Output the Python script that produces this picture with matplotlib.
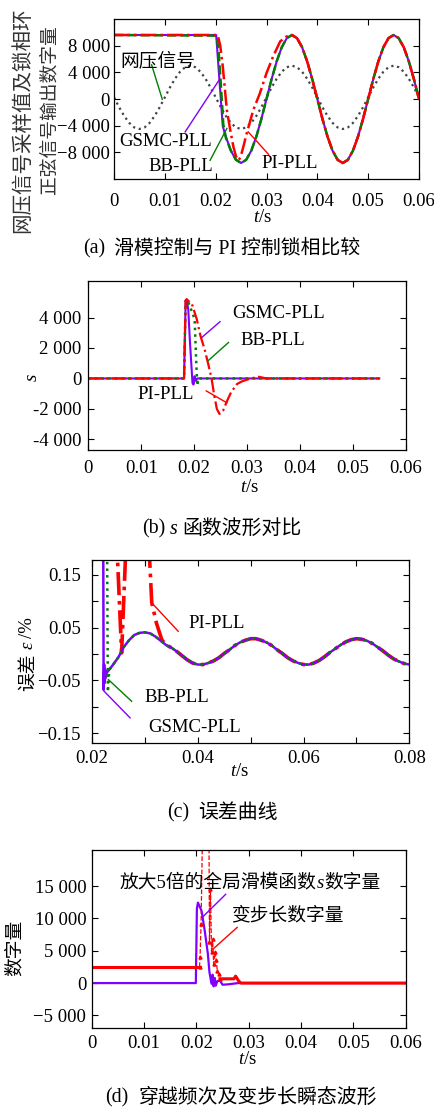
import numpy as np
import matplotlib
matplotlib.use("Agg")
import matplotlib.pyplot as plt
from matplotlib.transforms import IdentityTransform

plt.rcParams['font.family'] = ['Liberation Serif', 'Noto Sans CJK SC']
plt.rcParams['mathtext.fontset'] = 'custom'
plt.rcParams['mathtext.rm'] = 'Liberation Serif'
plt.rcParams['mathtext.it'] = 'Liberation Serif:italic'

PURPLE = "#8000ff"
GREEN = "#008000"
RED = "#ff0000"
GREY = "#444444"
FS = 13.5
W, H = 434.0, 1110.0

# ---------------- (a) PLL output vs grid voltage ----------------
grid_t = np.round(np.arange(0, 0.0605, 0.001), 4)
grid_v = [250, -1220, -2540, -3590, -4270, -4500, -4270, -3590, -2540, -1220,
          250, 1720, 3040, 4090, 4770, 5000, 4770, 4090, 3040, 1720,
          250, -1220, -2540, -3590, -4270, -4500, -4270, -3590, -2540, -1220,
          250, 1720, 3040, 4090, 4770, 5000, 4770, 4090, 3040, 1720,
          250, -1220, -2540, -3590, -4270, -4500, -4270, -3590, -2540, -1220,
          250, 1720, 3040, 4090, 4770, 5000, 4770, 4090, 3040, 1720,
          250]

lock_t = np.round(np.arange(0.026, 0.0605, 0.001), 4)
lock_v = [-9130, -7770, -5640, -2970, 0, 2970, 5640, 7770, 9130, 9600,
          9130, 7770, 5640, 2970, 0, -2970, -5640, -7770, -9130, -9600,
          -9130, -7770, -5640, -2970, 0, 2970, 5640, 7770, 9130, 9600,
          9130, 7770, 5640, 2970, 0]

gsmc_a_t = [0, 0.0201, 0.0214, 0.022, 0.023, 0.024, 0.025]
gsmc_a_v = [9600, 9600, -4100, -5640, -7770, -9130, -9600]
bb_a_t = [0, 0.0202, 0.0206, 0.021, 0.0215, 0.022, 0.023, 0.024, 0.025]
bb_a_v = [9600, 9500, 7000, 2400, -3800, -5800, -7770, -9130, -9600]
pi_a_t = [0, 0.0204, 0.0209, 0.0214, 0.0222, 0.0229, 0.0235, 0.024, 0.0245,
          0.0249, 0.0254, 0.0261, 0.0274, 0.0287, 0.03, 0.0313, 0.0327, 0.034]
pi_a_v = [9600, 9600, 8000, 4870, -1660, -4800, -7200, -8600, -9200,
          -8700, -7300, -5180, -1660, 860, 3880, 6380, 8650, 9400]

# ---------------- (b) sliding function s ----------------
gsmc_b_t = [0, 0.0181, 0.0184, 0.0186, 0.0189, 0.0192, 0.0195, 0.0197, 0.0199,
            0.0201, 0.0203, 0.0206, 0.055]
gsmc_b_v = [0, 0, 5100, 5200, 4500, 2500, 800, -300, -400, 150, -150, 0, 0]
bb_b_t = [0, 0.0181, 0.0184, 0.0187, 0.0193, 0.0201, 0.0204, 0.0206, 0.0208, 0.055]
bb_b_v = [0, 0, 5100, 5200, 4650, 3900, 1100, -470, 0, 0]
pi_b_t = [0, 0.0181, 0.0184, 0.0186, 0.0196, 0.0205, 0.0212, 0.022, 0.0227,
          0.0233, 0.0238, 0.0243, 0.0248, 0.0255, 0.0262, 0.027, 0.0281, 0.029,
          0.03, 0.031, 0.0322, 0.0337, 0.055]
pi_b_v = [0, 0, 5100, 5200, 4870, 3900, 2800, 1900, 900, 0, -1100, -2000,
          -2330, -2100, -1500, -900, -370, -200, -80, 20, 110, 0, 0]

# ---------------- (c) error curves ----------------
err_t = np.round(np.arange(0.024, 0.0805, 0.001), 4)
err_v = [-0.020, -0.006, 0.013, 0.026, 0.036, 0.040, 0.041, 0.039, 0.033, 0.025,
         0.017, 0.012, 0.005, -0.003, -0.011, -0.017, -0.020, -0.020, -0.017,
         -0.013, -0.007, 0.001, 0.008, 0.016, 0.022, 0.026, 0.029, 0.029, 0.026,
         0.022, 0.016, 0.008, 0.001, -0.007, -0.013, -0.017, -0.020, -0.020,
         -0.017, -0.012, -0.005, 0.003, 0.010, 0.017, 0.023, 0.027, 0.029, 0.028,
         0.025, 0.020, 0.013, 0.006, -0.002, -0.009, -0.014, -0.018, -0.020]
gsmc_c_t = [0.0221, 0.0222, 0.0223, 0.0224, 0.0225, 0.0226, 0.0228, 0.023]
gsmc_c_v = [0.3, -0.068, -0.020, -0.055, -0.030, -0.045, -0.035, -0.033]
bb_c_t = [0.0228, 0.0230, 0.0232, 0.0234]
bb_c_v = [0.3, -0.072, -0.040, -0.028]
pi_c_t = [0.0243, 0.0256, 0.0268, 0.0303, 0.0313, 0.0322, 0.0332, 0.034]
pi_c_v = [0.3, 0.002, 0.3, 0.3, 0.097, 0.058, 0.027, 0.017]

# ---------------- (d) crossing count and variable step ----------------
s5_t = [0, 0.0199, 0.0201, 0.0203, 0.021, 0.0216, 0.0222, 0.0225, 0.0229, 0.0231,
        0.0233, 0.0235, 0.0237, 0.024, 0.0245, 0.025, 0.026, 0.027, 0.028, 0.06]
s5_v = [0, 0, 11500, 12460, 11170, 8090, 4510, 1690, -110, 1300, -500, 800,
        -400, 300, 400, -250, -200, -100, 0, 0]
step_hold1_t = [0, 0.0206]
step_hold1_v = [2500, 2500]
step_t = [0.0206, 0.0207, 0.0209, 0.0212, 0.0224, 0.0225, 0.0227, 0.0229, 0.0231,
          0.0233, 0.0236, 0.0238, 0.024, 0.0243, 0.0245]
step_v = [2500, 4000, 9100, 25000, 25000, 6300, 14500, 4800, 6800, 3000, 4800,
          3500, 1900, 1400, 700]
step_hold2_t = [0.0245, 0.0272, 0.0275, 0.0278, 0.028, 0.0285, 0.06]
step_hold2_v = [660, 660, 1080, 700, 400, 0, 0]


def px_axes(fig, left, top, right, bottom):
    return fig.add_axes([left / W, 1 - bottom / H, (right - left) / W, (bottom - top) / H])


def style(ax, xpad, ypad):
    ax.tick_params(which='both', direction='in', top=True, right=True,
                   labelsize=FS, width=0.8, length=4)
    ax.tick_params(axis='x', pad=xpad)
    ax.tick_params(axis='y', pad=ypad)
    for sp in ax.spines.values():
        sp.set_linewidth(0.9)


def seq_text(fig, x, y, pieces, size=FS, vertical=False):
    # pieces: (string, italic, gap_after_px); x, y in pixels from top-left
    renderer = fig.canvas.get_renderer()
    objs, sizes = [], []
    for s, italic, gap in pieces:
        t = fig.text(0, 0, s, transform=IdentityTransform(), fontsize=size,
                     fontstyle='italic' if italic else 'normal',
                     rotation=90 if vertical else 0,
                     ha='center' if vertical else 'left',
                     va='bottom' if vertical else 'center')
        ext = t.get_window_extent(renderer)
        objs.append(t)
        sizes.append((ext.height if vertical else ext.width) + gap)
    total = sum(sizes)
    pos = (H - y - total / 2) if vertical else (x - total / 2)
    for t, sz in zip(objs, sizes):
        if vertical:
            t.set_position((x, pos))
        else:
            t.set_position((pos, H - y))
        pos += sz


fig = plt.figure(figsize=(W / 100, H / 100), dpi=100)

xt6 = [0, 0.01, 0.02, 0.03, 0.04, 0.05, 0.06]
xt6_lbl = ['0', '0.01', '0.02', '0.03', '0.04', '0.05', '0.06']

# (a)
ax = px_axes(fig, 114, 19, 419, 179)
ax.plot(grid_t, grid_v, ls=':', color=GREY, lw=1.6)
ax.plot(list(gsmc_a_t) + list(lock_t), list(gsmc_a_v) + list(lock_v), color=PURPLE, lw=1.5)
ax.plot(list(bb_a_t) + list(lock_t), list(bb_a_v) + list(lock_v), ls='--', color=GREEN, lw=1.8)
ax.plot(list(pi_a_t) + list(lock_t[9:]), list(pi_a_v) + list(lock_v[9:]), ls='-.', color=RED, lw=1.8)
ax.set_xlim(0, 0.06)
ax.set_ylim(-12000, 12000)
ax.set_xticks(xt6, xt6_lbl)
ax.set_yticks([-8000, -4000, 0, 4000, 8000], ['−8 000', '−4 000', '0', '4 000', '8 000'])
style(ax, 10, 3)
ax.plot([0.0074, 0.0095], [5130, -45], color=GREEN, lw=1)
ax.text(0.0013, 5630, '网压信号', fontsize=FS, va='center', ha='left')
ax.plot([0.014, 0.0207], [-4930, 2870], color=PURPLE, lw=1)
ax.text(0.001, -6440, 'GSMC-PLL', fontsize=FS, va='center', ha='left')
ax.plot([0.0189, 0.0222], [-9200, -4420], color=GREEN, lw=1)
ax.text(0.0067, -10060, 'BB-PLL', fontsize=FS, va='center', ha='left')
ax.plot([0.0264, 0.0304], [-4930, -8300], color=RED, lw=1)
ax.text(0.029, -9700, 'PI-PLL', fontsize=FS, va='center', ha='left')
fig.text(23 / W, 1 - 120 / H, '网压信号采样值及锁相环', rotation=90,
         fontsize=14.8, ha='center', va='center', color='#333333')
fig.text(50 / W, 1 - 110 / H, '正弦信号输出数字量', rotation=90,
         fontsize=FS, ha='center', va='center', color='#333333')
fig.text(263 / W, 1 - 218 / H, r'$t$/s', fontsize=FS, ha='center', va='center')
seq_text(fig, 222, 249, [('(a)', False, 9), ('滑模控制与 PI 控制锁相比较', False, 0)], size=14.3)

# (b)
ax = px_axes(fig, 88.3, 281, 405.7, 450)
ax.plot(gsmc_b_t, gsmc_b_v, color=PURPLE, lw=1.5)
ax.plot(bb_b_t, bb_b_v, ls=':', color=GREEN, lw=1.8)
ax.plot(pi_b_t, pi_b_v, ls='-.', color=RED, lw=1.6)
ax.set_xlim(0, 0.06)
ax.set_ylim(-4700, 6400)
ax.set_xticks(xt6, xt6_lbl)
ax.set_yticks([-4000, -2000, 0, 2000, 4000], ['-4 000', '-2 000', '0', '2 000', '4 000'])
style(ax, 7, 5)
ax.plot([0.02145, 0.0249], [2690, 3730], color=PURPLE, lw=1)
ax.text(0.0272, 4290, 'GSMC-PLL', fontsize=FS, va='center', ha='left')
ax.plot([0.0227, 0.0265], [1180, 2360], color=GREEN, lw=1)
ax.text(0.0288, 2510, 'BB-PLL', fontsize=FS, va='center', ha='left')
ax.plot([0.0223, 0.0262], [-820, -1600], color=RED, lw=1)
ax.text(0.0093, -1040, 'PI-PLL', fontsize=FS, va='center', ha='left')
fig.text(32 / W, 1 - 377 / H, 's', fontstyle='italic', fontsize=FS, ha='center',
         va='center', rotation=90)
fig.text(250 / W, 1 - 488 / H, r'$t$/s', fontsize=FS, ha='center', va='center')
seq_text(fig, 222, 529, [('(b)', False, 4), ('s', True, 5), ('函数波形对比', False, 0)], size=14.3)

# (c)
ax = px_axes(fig, 92, 560, 409.3, 742.7)
ax.plot(list(pi_c_t) + list(err_t[10:]), list(pi_c_v) + list(err_v[10:]), ls='-.', color=RED, lw=2.6)
ax.plot(list(gsmc_c_t) + list(err_t), list(gsmc_c_v) + list(err_v), color=PURPLE, lw=1.8)
ax.plot(list(bb_c_t) + list(err_t), list(bb_c_v) + list(err_v), ls=':', color=GREEN, lw=1.8)
ax.set_xlim(0.02, 0.08)
ax.set_ylim(-0.168, 0.178)
ax.set_xticks([0.02, 0.04, 0.06, 0.08], ['0.02', '0.04', '0.06', '0.08'])
ax.set_xticks([0.03, 0.05, 0.07], minor=True)
ax.set_yticks([-0.15, -0.05, 0.05, 0.15], ['−0.15', '−0.05', '0.05', '0.15'])
ax.set_yticks([-0.1, 0, 0.1], minor=True)
style(ax, 5, 8)
ax.plot([0.0316, 0.0363], [0.0936, 0.043], color=RED, lw=1)
ax.text(0.0382, 0.058, 'PI-PLL', fontsize=FS, va='center', ha='left')
ax.plot([0.0231, 0.0275], [-0.0485, -0.0896], color=GREEN, lw=1)
ax.text(0.030, -0.083, 'BB-PLL', fontsize=FS, va='center', ha='left')
ax.plot([0.0223, 0.0272], [-0.0706, -0.121], color=PURPLE, lw=1)
ax.text(0.0306, -0.140, 'GSMC-PLL', fontsize=FS, va='center', ha='left')
seq_text(fig, 28, 654, [('误差', False, 5), ('ε', True, 4), ('/%', False, 0)], vertical=True)
fig.text(240 / W, 1 - 772 / H, r'$t$/s', fontsize=FS, ha='center', va='center')
seq_text(fig, 222, 813, [('(c)', False, 9), ('误差曲线', False, 0)], size=14.3)

# (d)
ax = px_axes(fig, 91.7, 850, 405.7, 1028.3)
ax.plot(s5_t, s5_v, color=PURPLE, lw=1.6)
ax.plot(step_hold1_t, step_hold1_v, color=RED, lw=2.2)
ax.plot(step_t, step_v, ls='--', color=RED, lw=0.9, marker='^', ms=2.2)
ax.plot(step_hold2_t, step_hold2_v, color=RED, lw=2.2)
ax.set_xlim(0, 0.06)
ax.set_ylim(-7000, 20600)
ax.set_xticks(xt6, xt6_lbl)
ax.set_yticks([-5000, 0, 5000, 10000, 15000], ['−5 000', '0', '5 000', '10 000', '15 000'])
style(ax, 5, 4)
ax.plot([0.0211, 0.0256], [10150, 13740], color=PURPLE, lw=1)
seq_text(fig, 250, 883, [('放大5倍的全局滑模函数', False, 0), ('s', True, 0), ('数字量', False, 0)])
ax.plot([0.0232, 0.0278], [5280, 8620], color=RED, lw=1)
ax.text(0.0267, 10500, '变步长数字量', fontsize=FS, va='center', ha='left')
fig.text(15 / W, 1 - 948 / H, '数字量', rotation=90,
         fontsize=FS, ha='center', va='center')
fig.text(248 / W, 1 - 1059 / H, r'$t$/s', fontsize=FS, ha='center', va='center')
seq_text(fig, 241, 1098, [('(d)', False, 9), ('穿越频次及变步长瞬态波形', False, 0)], size=14.3)

fig.savefig("out.png", dpi=100)
